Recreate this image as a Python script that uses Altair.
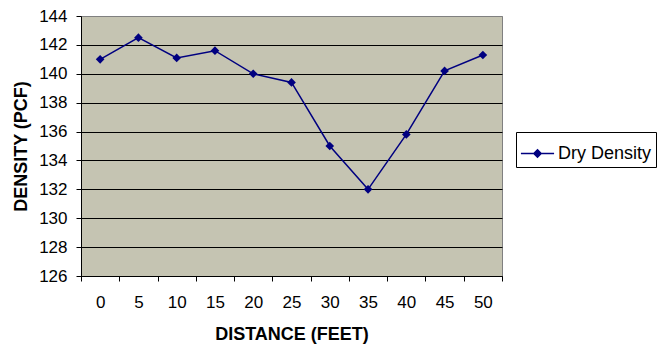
import altair as alt
import pandas as pd

distance = [0, 5, 10, 15, 20, 25, 30, 35, 40, 45, 50]
dry_density = [141.0, 142.5, 141.1, 141.6, 140.0, 139.4, 135.0, 132.0, 135.8, 140.2, 141.3]
series = ["Dry Density"] * len(distance)
y_ticks = [126, 128, 130, 132, 134, 136, 138, 140, 142, 144]

df = pd.DataFrame({"distance": distance, "density": dry_density, "series": series})

NAVY = "#000080"
FONT = "Liberation Sans"

x_enc = alt.X(
    "distance:O",
    bandPosition=0.5,
    scale=alt.Scale(type="band", paddingInner=0, paddingOuter=0),
    axis=alt.Axis(
        title="DISTANCE (FEET)",
        labelAngle=0,
        tickBand="extent",
        tickSize=5,
        tickColor="black",
        domainColor="black",
        labelPadding=13,
        labelFontSize=17,
        labelFont=FONT,
        labelColor="black",
        titleFont=FONT,
        titleFontSize=18,
        titleFontWeight="bold",
        titleColor="black",
        titlePadding=15,
        grid=False,
    ),
)

y_enc = alt.Y(
    "density:Q",
    scale=alt.Scale(domain=[126, 144], nice=False, zero=False),
    axis=alt.Axis(
        title="DENSITY (PCF)",
        values=y_ticks,
        tickSize=5,
        tickColor="black",
        domainColor="black",
        labelPadding=9,
        labelFontSize=17,
        labelFont=FONT,
        labelColor="black",
        titleFont=FONT,
        titleFontSize=18,
        titleFontWeight="bold",
        titleColor="black",
        titlePadding=8,
        grid=True,
        gridColor={"condition": {"test": "datum.value == 144", "value": "#808080"}, "value": "black"},
        gridOpacity=1,
        gridWidth=1,
    ),
)

line = alt.Chart(df).mark_line(strokeWidth=1.5).encode(
    x=x_enc,
    y=y_enc,
    color=alt.Color(
        "series:N",
        scale=alt.Scale(domain=["Dry Density"], range=[NAVY]),
        legend=alt.Legend(
            title=None,
            orient="none",
            legendX=435,
            legendY=116,
            symbolType="M-1,0L1,0M0,-0.22L0.22,0L0,0.22L-0.22,0Z",
            symbolSize=1100,
            symbolStrokeWidth=1.5,
            symbolFillColor=NAVY,
            symbolStrokeColor=NAVY,
            labelFont=FONT,
            labelFontSize=18,
            labelOffset=3,
            labelColor="black",
            strokeColor="black",
            fillColor="white",
            padding=4,
            offset=0,
        ),
    ),
)

points = alt.Chart(df).mark_point(shape="diamond", filled=True, size=75, opacity=1).encode(
    x=x_enc,
    y=y_enc,
    color=alt.value(NAVY),
)

chart = (
    alt.layer(line, points)
    .properties(
        width=421,
        height=260,
        autosize=alt.AutoSizeParams(type="none"),
        padding={"left": 73, "top": 8, "right": 156, "bottom": 77},
        background="white",
    )
    .configure_view(fill="#c5c4b2", stroke="#808080", strokeWidth=1)
)

chart.save("out.html", embed_options={"renderer": "svg", "actions": False})
